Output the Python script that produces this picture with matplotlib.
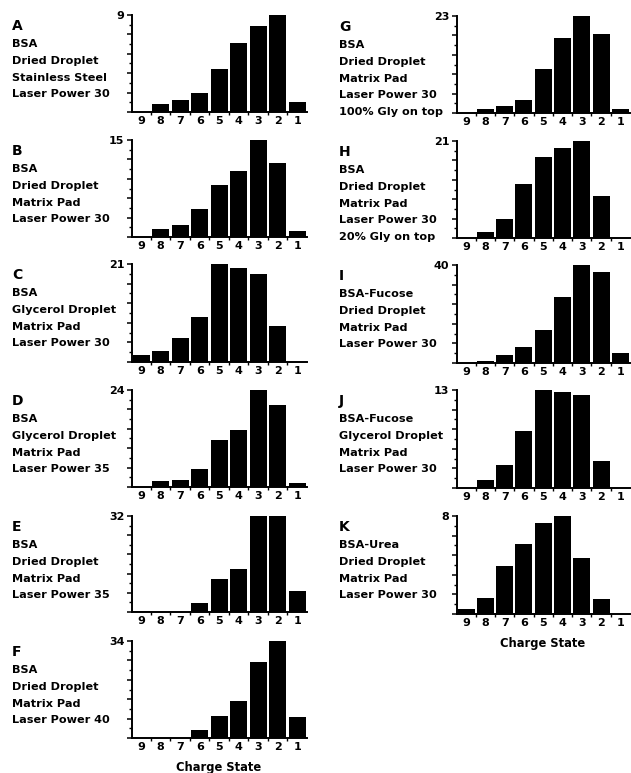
import numpy as np
import matplotlib.pyplot as plt

W, H = 631, 773

charge_states = [9, 8, 7, 6, 5, 4, 3, 2, 1]

# bar heights, read in charge-state order 9 -> 1
vals_A = [0.0, 0.7, 1.1, 1.8, 4.0, 6.4, 8.0, 9.0, 0.9]
vals_B = [0.0, 1.3, 1.8, 4.3, 8.0, 10.2, 15.0, 11.5, 0.9]
vals_C = [1.4, 2.4, 5.2, 9.7, 21.0, 20.2, 18.8, 7.7, 0.0]
vals_D = [0.0, 1.4, 1.7, 4.5, 11.6, 14.1, 24.0, 20.4, 1.0]
vals_E = [0.2, 0.0, 0.0, 2.9, 11.1, 14.4, 32.0, 32.0, 7.0]
vals_F = [0.0, 0.0, 0.0, 2.7, 7.8, 12.8, 26.5, 34.0, 7.5]
vals_G = [0.0, 0.9, 1.6, 3.1, 10.4, 17.8, 23.0, 18.7, 0.9]
vals_H = [0.0, 1.4, 4.2, 11.6, 17.5, 19.5, 21.0, 9.0, 0.0]
vals_I = [0.0, 1.0, 3.1, 6.4, 13.5, 26.8, 40.0, 37.1, 4.1]
vals_J = [0.0, 1.0, 3.0, 7.5, 13.0, 12.7, 12.3, 3.6, 0.0]
vals_K = [0.4, 1.3, 3.9, 5.7, 7.4, 8.0, 4.6, 1.25, 0.0]

tops = {'A': 9, 'B': 15, 'C': 21, 'D': 24, 'E': 32, 'F': 34,
        'G': 23, 'H': 21, 'I': 40, 'J': 13, 'K': 8}

texts = {
    'A': ['BSA', 'Dried Droplet', 'Stainless Steel', 'Laser Power 30'],
    'B': ['BSA', 'Dried Droplet', 'Matrix Pad', 'Laser Power 30'],
    'C': ['BSA', 'Glycerol Droplet', 'Matrix Pad', 'Laser Power 30'],
    'D': ['BSA', 'Glycerol Droplet', 'Matrix Pad', 'Laser Power 35'],
    'E': ['BSA', 'Dried Droplet', 'Matrix Pad', 'Laser Power 35'],
    'F': ['BSA', 'Dried Droplet', 'Matrix Pad', 'Laser Power 40'],
    'G': ['BSA', 'Dried Droplet', 'Matrix Pad', 'Laser Power 30', '100% Gly on top'],
    'H': ['BSA', 'Dried Droplet', 'Matrix Pad', 'Laser Power 30', '20% Gly on top'],
    'I': ['BSA-Fucose', 'Dried Droplet', 'Matrix Pad', 'Laser Power 30'],
    'J': ['BSA-Fucose', 'Glycerol Droplet', 'Matrix Pad', 'Laser Power 30'],
    'K': ['BSA-Urea', 'Dried Droplet', 'Matrix Pad', 'Laser Power 30'],
}

values = {'A': vals_A, 'B': vals_B, 'C': vals_C, 'D': vals_D, 'E': vals_E,
          'F': vals_F, 'G': vals_G, 'H': vals_H, 'I': vals_I, 'J': vals_J,
          'K': vals_K}

# (axes left px, axes width px, top px, baseline px, text x px)
layout = {
    'A': (132, 175, 15, 112, 12), 'B': (132, 175, 140, 237, 12),
    'C': (132, 175, 264, 362, 12), 'D': (132, 175, 390, 487, 12),
    'E': (132, 175, 516, 612, 12), 'F': (132, 175, 641, 738, 12),
    'G': (457, 173, 16, 113, 339), 'H': (457, 173, 141, 238, 339),
    'I': (457, 173, 265, 363, 339), 'J': (457, 173, 390, 488, 339),
    'K': (457, 173, 516, 614, 339),
}

font = 'DejaVu Sans'
fig = plt.figure(figsize=(W / 100, H / 100), dpi=100)

for key, (x0, w, top, base, tx) in layout.items():
    ax = fig.add_axes([x0 / W, 1 - base / H, w / W, (base - top) / H])
    pos = np.arange(1, 10)
    ax.bar(pos, values[key], width=0.88, color='black', edgecolor='none')
    ymax = tops[key]
    ax.set_ylim(0, ymax)
    ax.set_xlim(0.53, 9.5)
    for s in ['top', 'right']:
        ax.spines[s].set_visible(False)
    for s in ['left', 'bottom']:
        ax.spines[s].set_linewidth(1.4)
    ax.set_yticks(np.linspace(0, ymax, 6))
    ax.set_yticklabels([''] * 5 + [str(ymax)], fontfamily=font,
                       fontweight='bold', fontsize=8)
    ax.set_yticks(np.linspace(0, ymax, 11), minor=True)
    ax.tick_params(axis='y', which='major', length=3.5, width=1.1, pad=2)
    ax.tick_params(axis='y', which='minor', length=2, width=1)
    ax.set_xticks(pos)
    ax.set_xticklabels([str(c) for c in charge_states], fontfamily=font,
                       fontweight='bold', fontsize=8)
    ax.set_xticks(pos[:-1] + 0.5, minor=True)
    ax.tick_params(axis='x', which='major', length=0, pad=3)
    ax.tick_params(axis='x', which='minor', length=2.5, width=1)

    lines = texts[key]
    fig.text(tx / W, 1 - (top + 11) / H, key, fontfamily=font,
             fontweight='bold', fontsize=10, va='center', ha='left')
    for i, line in enumerate(lines):
        fig.text(tx / W, 1 - (top + 29 + 16.8 * i) / H, line, fontfamily=font,
                 fontweight='bold', fontsize=8.1, va='center', ha='left')

fig.text((132 + 87) / W, 1 - 767 / H, 'Charge State', fontfamily=font,
         fontweight='bold', fontsize=8.3, ha='center', va='center')
fig.text((457 + 86) / W, 1 - 644 / H, 'Charge State', fontfamily=font,
         fontweight='bold', fontsize=8.3, ha='center', va='center')

fig.savefig('out.png', dpi=100, facecolor='white')
